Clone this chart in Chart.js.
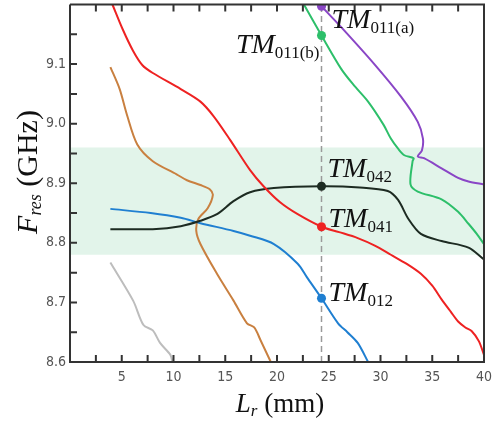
<!DOCTYPE html>
<html>
<head>
<meta charset="utf-8">
<script src="https://cdn.jsdelivr.net/npm/chart.js@4.4.1/dist/chart.umd.min.js"></script>
<style>
  html, body { margin: 0; padding: 0; background: #fff; }
</style>
</head>
<body>
<canvas id="chart" width="497" height="426"></canvas>
<script>
/* ─── Data: [Lr (mm), Fres (GHz)] ─── */
const redCurve = [[4.1,9.2],[5.1,9.158],[6.1,9.122],[7,9.098],[8,9.085],[10.7,9.058],[12.6,9.037],
  [13.9,9.012],[15.5,8.972],[17.4,8.922],[18.7,8.895],[20.3,8.868],[22,8.848],[24.3,8.827],
  [26,8.818],[27.8,8.808],[29.5,8.795],[31,8.78],[32.5,8.765],[33.9,8.748],[35,8.728],[35.9,8.705],
  [36.8,8.684],[37.5,8.668],[38.2,8.658],[38.8,8.652],[39.5,8.635],[40,8.612]];
const blackCurve = [[3.9,8.823],[8,8.823],[10.7,8.828],[12.6,8.837],[14.2,8.848],[15.8,8.87],[17.4,8.885],
  [19.7,8.892],[24.3,8.895],[28,8.893],[30.7,8.887],[31.7,8.872],[32.7,8.84],[33.9,8.815],[35.9,8.803],
  [38.5,8.792],[40,8.772]];
const blueCurve = [[3.9,8.857],[7.8,8.85],[10.7,8.842],[12.6,8.833],[15.8,8.82],[17.4,8.812],[19.7,8.798],
  [22,8.765],[22.9,8.742],[24.3,8.707],[25.9,8.665],[26.8,8.65],[27.8,8.632],[28.8,8.6]];
const orangeCurve = [[3.9,9.095],[4.8,9.058],[5.5,9.015],[6.5,8.965],[8,8.937],[10.3,8.915],[11.3,8.905],
  [12.6,8.897],[13.5,8.89],[13.8,8.88],[13.3,8.858],[12.4,8.84],[12.2,8.82],[12.6,8.798],[14.2,8.748],
  [15.8,8.703],[17.1,8.665],[17.8,8.658],[18.4,8.637],[19.4,8.6]];
const grayCurve = [[3.9,8.767],[6.1,8.703],[7.1,8.662],[8,8.653],[8.7,8.632],[9.7,8.612],[9.9,8.6]];
const greenCurve = [[22.6,9.2],[24.3,9.148],[26.2,9.092],[27.4,9.065],[28.8,9.037],[30.3,8.998],[31,8.975],
  [31.7,8.958],[32.3,8.947],[33.2,8.942],[33.1,8.937],[32.9,8.898],[33.6,8.886],[35.9,8.873],[37.5,8.852],
  [38.5,8.832],[39.3,8.815],[40,8.798]];
const purpleCurve = [[24.3,9.197],[26.2,9.162],[29.4,9.1],[32,9.045],[33.6,9.003],[34.1,8.975],[34,8.955],
  [33.6,8.945],[34.2,8.942],[35.9,8.925],[37.5,8.909],[38.5,8.903],[40,8.898]];

const markerX = 24.3;
const markerY = [9.197, 9.148, 8.895, 8.827, 8.707];
const markerColors = ['#8a46c6', '#2dbf6a', '#1d2b22', '#ee2222', '#1f7fd1'];
const bandRange = [8.78, 8.96];
const xRange = [0, 40];
const yRange = [8.6, 9.2];

/* ─── Styles ─── */
const COLORS = {
  red: '#ee2222', black: '#1d2b22', blue: '#1f7fd1', orange: '#c98040',
  gray: '#bdbdbd', green: '#2dbf6a', purple: '#8a46c6', band: '#e2f4ea',
};
const TICK_FONT = "'Liberation Sans Narrow', 'DejaVu Sans Condensed', sans-serif";
const SERIF = "'Liberation Serif', 'DejaVu Serif', serif";

const toXY = pts => pts.map(p => ({ x: p[0], y: p[1] }));

function curve(pts, color) {
  return {
    data: toXY(pts),
    showLine: true,
    borderColor: color,
    borderWidth: 2,
    pointRadius: 0,
    tension: 0.3,
  };
}

/* rich text: parts = [{ t, font, dy }] */
function drawRich(ctx, x, y, parts, align) {
  let w = 0;
  parts.forEach(p => { ctx.font = p.font; p.w = ctx.measureText(p.t).width; w += p.w; });
  let cx = align === 'right' ? x - w : align === 'center' ? x - w / 2 : x;
  parts.forEach(p => {
    ctx.font = p.font;
    ctx.fillText(p.t, cx, y + (p.dy || 0));
    cx += p.w;
  });
}

function tmLabel(sub) {
  return [
    { t: 'TM', font: `italic 28px ${SERIF}` },
    { t: sub, font: `17px ${SERIF}`, dy: 5 },
  ];
}

/* ─── Frame, inward ticks, titles, mode labels ─── */
const framePlugin = {
  id: 'frame',
  afterDatasetsDraw(chart) {
    const { ctx, chartArea: a, scales: { x, y } } = chart;
    ctx.save();
    ctx.strokeStyle = '#333';
    ctx.lineWidth = 2;
    ctx.beginPath();
    ctx.moveTo(a.left, a.top);
    ctx.lineTo(a.left, a.bottom);
    ctx.lineTo(a.right, a.bottom);
    ctx.lineTo(a.right, a.top);
    ctx.lineTo(a.left, a.top);
    x.ticks.forEach(t => {
      const px = x.getPixelForValue(t.value);
      if (px <= a.left + 1 || px >= a.right - 1) return;
      ctx.moveTo(px, a.bottom); ctx.lineTo(px, a.bottom - 7);
      ctx.moveTo(px, a.top);    ctx.lineTo(px, a.top + 7);
    });
    y.ticks.forEach(t => {
      const py = y.getPixelForValue(t.value);
      if (py <= a.top + 1 || py >= a.bottom - 1) return;
      ctx.moveTo(a.left, py); ctx.lineTo(a.left + 7, py);
    });
    ctx.stroke();
    ctx.restore();
  },
  afterDraw(chart) {
    const { ctx, scales: { x, y } } = chart;
    ctx.save();
    ctx.fillStyle = '#111';
    ctx.textBaseline = 'alphabetic';

    // mode labels next to the markers
    const mx = x.getPixelForValue(markerX);
    drawRich(ctx, mx + 10, y.getPixelForValue(markerY[0]) + 22, tmLabel('011(a)'), 'left');
    drawRich(ctx, mx - 2,  y.getPixelForValue(markerY[1]) + 18, tmLabel('011(b)'), 'right');
    drawRich(ctx, mx + 6,  y.getPixelForValue(markerY[2]) - 9,  tmLabel('042'), 'left');
    drawRich(ctx, mx + 7,  y.getPixelForValue(markerY[3]) + 0,  tmLabel('041'), 'left');
    drawRich(ctx, mx + 7,  y.getPixelForValue(markerY[4]) + 3,  tmLabel('012'), 'left');

    // x title
    drawRich(ctx, 280, 412, [
      { t: 'L', font: `italic 27px ${SERIF}` },
      { t: 'r', font: `italic 17px ${SERIF}`, dy: 4 },
      { t: ' (mm)', font: `27px ${SERIF}` },
    ], 'center');

    // y title
    ctx.translate(37, 172);
    ctx.rotate(-Math.PI / 2);
    drawRich(ctx, 0, 0, [
      { t: 'F', font: `italic 30px ${SERIF}` },
      { t: 'res', font: `italic 18px ${SERIF}`, dy: 4 },
      { t: ' (GHz)', font: `30px ${SERIF}` },
    ], 'center');
    ctx.restore();
  },
};

/* ─── Chart ─── */
const datasets = [
  {
    data: markerY.map(v => ({ x: markerX, y: v })),
    pointRadius: 4.5,
    pointBackgroundColor: markerColors,
    pointBorderWidth: 0,
    showLine: false,
  },
  curve(redCurve, COLORS.red),
  curve(blackCurve, COLORS.black),
  curve(blueCurve, COLORS.blue),
  curve(orangeCurve, COLORS.orange),
  curve(grayCurve, COLORS.gray),
  curve(greenCurve, COLORS.green),
  curve(purpleCurve, COLORS.purple),
  {
    data: [{ x: markerX, y: yRange[0] }, { x: markerX, y: yRange[1] }],
    showLine: true,
    borderColor: '#9a9a9a',
    borderWidth: 1.5,
    borderDash: [6, 4],
    pointRadius: 0,
  },
  {
    data: [{ x: xRange[0], y: bandRange[1] }, { x: xRange[1], y: bandRange[1] }],
    showLine: true,
    borderWidth: 0,
    borderColor: 'rgba(0,0,0,0)',
    backgroundColor: COLORS.band,
    fill: { value: bandRange[0] },
    pointRadius: 0,
  },
];

new Chart(document.getElementById('chart'), {
  type: 'scatter',
  data: { datasets },
  plugins: [framePlugin],
  options: {
    responsive: false,
    animation: false,
    layout: { padding: { left: 0, right: 13, top: 0, bottom: 0 } },
    plugins: { legend: { display: false }, tooltip: { enabled: false } },
    scales: {
      x: {
        type: 'linear',
        min: xRange[0], max: xRange[1],
        grid: { display: false, drawTicks: false },
        border: { display: false },
        ticks: {
          stepSize: 2.5,
          autoSkip: false,
          maxRotation: 0,
          padding: 7,
          color: '#555',
          font: { family: TICK_FONT, size: 14 },
          callback: v => (v > 0 && v % 5 === 0 ? String(v) : ''),
        },
        afterFit: s => { s.height = 64; s.paddingLeft = 0; s.paddingRight = 0; },
      },
      y: {
        min: yRange[0], max: yRange[1],
        grid: { display: false, drawTicks: false },
        border: { display: false },
        ticks: {
          stepSize: 0.05,
          autoSkip: false,
          padding: 4,
          color: '#555',
          font: { family: TICK_FONT, size: 14 },
          callback: v => {
            const r = Math.round(v * 100) / 100;
            const onTenth = Math.abs(r * 10 - Math.round(r * 10)) < 1e-6;
            return onTenth && r < 9.15 ? r.toFixed(1) : '';
          },
        },
        afterFit: s => { s.width = 70; s.paddingTop = 0; s.paddingBottom = 0; },
      },
    },
  },
});
</script>
</body>
</html>
